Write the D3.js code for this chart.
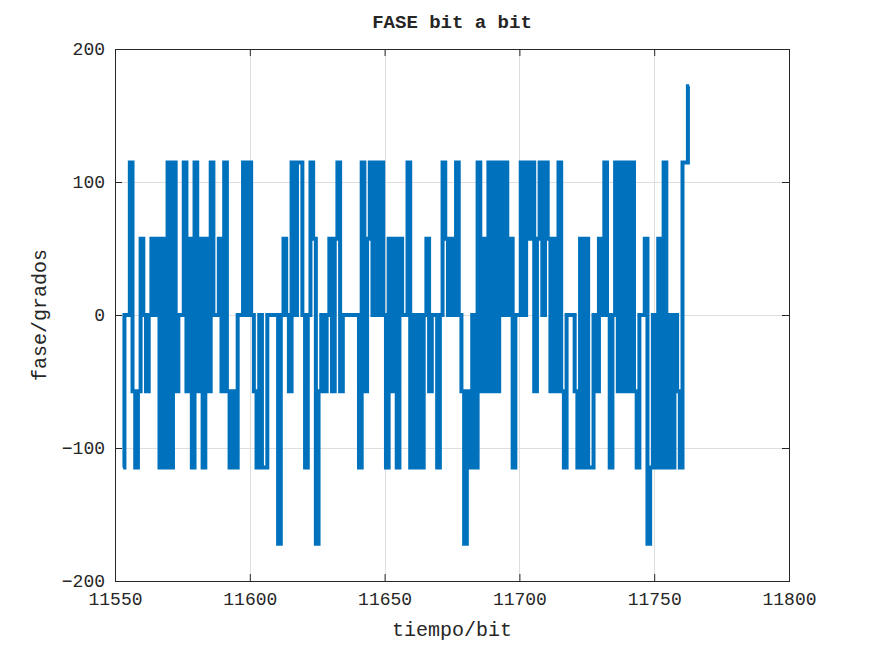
<!DOCTYPE html>
<html>
<head>
<meta charset="utf-8">
<script src="https://cdn.jsdelivr.net/npm/d3@7"></script>
<style>
  body { margin: 0; background: #fff; }
  text { font-family: "Liberation Mono", "Courier New", monospace; fill: #262626; }
</style>
</head>
<body>
<svg id="chart" width="872" height="654"></svg>
<script>
// fase de cada bit (grados), un valor por bit desde el bit 11553
const bitInicial = 11553;
const fase = [
  -114.6, 0, 0, 114.6, -57.3, -114.6, -57.3, 57.3, 0, -57.3,
  0, 57.3, 0, 57.3, -114.6, 57.3, -114.6, 114.6, -114.6, 114.6,
  -57.3, 0, 0, 114.6, -57.3, 57.3, -114.6, 114.6, -57.3, 57.3,
  -114.6, 57.3, -57.3, 114.6, 0, 0, 57.3, -57.3, 114.6, -57.3,
  -114.6, -57.3, -114.6, 0, 0, 114.6, 0, 114.6, 0, -57.3,
  -114.6, 0, -114.6, -114.6, 0, 0, 0, 0, -171.9, 0,
  57.3, 0, -57.3, 114.6, 0, 114.6, 114.6, 0, -114.6, 0,
  114.6, 57.3, -171.9, -57.3, 0, -57.3, 0, 57.3, -57.3, 57.3,
  114.6, -57.3, 0, 0, 0, 0, 0, 0, -114.6, 114.6,
  -57.3, 57.3, 114.6, 0, 114.6, 0, 114.6, 0, -114.6, 57.3,
  -57.3, 57.3, -114.6, 57.3, 0, 0, 114.6, -114.6, 0, -114.6,
  0, -114.6, 0, 57.3, -57.3, 0, 0, -114.6, 0, 114.6,
  57.3, 0, 57.3, 0, 114.6, 0, -57.3, -171.9, -57.3, -114.6,
  0, -114.6, 114.6, -57.3, 57.3, -57.3, 114.6, -57.3, 114.6, -57.3,
  114.6, 0, 114.6, 0, 57.3, -114.6, 0, 0, 114.6, 0,
  114.6, 57.3, 114.6, -57.3, 57.3, 114.6, 0, 114.6, 57.3, -57.3,
  57.3, -57.3, 114.6, -57.3, -114.6, 0, 0, 0, -57.3, -114.6,
  57.3, -114.6, 57.3, -114.6, -114.6, 0, -57.3, 57.3, 0, 114.6,
  0, -114.6, 0, 114.6, -57.3, 114.6, -57.3, 114.6, -57.3, 114.6,
  -57.3, -114.6, 0, 0, 57.3, -171.9, -114.6, 0, -114.6, 57.3,
  -114.6, 114.6, -114.6, 0, -114.6, 0, -57.3, -114.6, 114.6, 114.6, 171.9
];
const xTicks = [11550, 11600, 11650, 11700, 11750, 11800];
const yTicks = [-200, -100, 0, 100, 200];
const titulo = "FASE bit a bit";
const etiquetaX = "tiempo/bit";
const etiquetaY = "fase/grados";

// eje de tiempo: indice de bit
const tiempo = fase.map((d, i) => bitInicial + i);

const svg = d3.select("#chart");
const mLeft = 115, mRight = 789, mTop = 49, mBottom = 581;
const ink = "#262626";

svg.append("rect").attr("width", 872).attr("height", 654).attr("fill", "#fff");

const x = d3.scaleLinear().domain([11550, 11800]).range([mLeft, mRight]);
const y = d3.scaleLinear().domain([-200, 200]).range([mBottom, mTop]);

// rejilla
const grid = svg.append("g").attr("stroke", "#dedede").attr("stroke-width", 1);
grid.selectAll(".gx").data(xTicks.slice(1, -1)).enter().append("line")
  .attr("x1", d => Math.round(x(d)) + 0.5).attr("x2", d => Math.round(x(d)) + 0.5)
  .attr("y1", mTop).attr("y2", mBottom);
grid.selectAll(".gy").data(yTicks.slice(1, -1)).enter().append("line")
  .attr("y1", d => Math.round(y(d)) + 0.5).attr("y2", d => Math.round(y(d)) + 0.5)
  .attr("x1", mLeft).attr("x2", mRight);

// ejes con marcas hacia dentro
function estilo(g) {
  g.select(".domain").remove();
  g.selectAll(".tick line").attr("stroke", ink);
  g.selectAll(".tick text").attr("fill", ink).style("font-size", "18px");
}
svg.append("g").attr("transform", `translate(0,${mBottom})`)
  .call(d3.axisBottom(x).tickValues(xTicks).tickSize(-7).tickPadding(11).tickFormat(d3.format("d")))
  .call(estilo);
svg.append("g").attr("transform", `translate(0,${mTop})`)
  .call(d3.axisTop(x).tickValues(xTicks).tickSize(-7).tickFormat(""))
  .call(estilo);
svg.append("g").attr("transform", `translate(${mLeft},0)`)
  .call(d3.axisLeft(y).tickValues(yTicks).tickSize(-7).tickPadding(10).tickFormat(d3.format("d")))
  .call(estilo);
svg.append("g").attr("transform", `translate(${mRight},0)`)
  .call(d3.axisRight(y).tickValues(yTicks).tickSize(-7).tickFormat(""))
  .call(estilo);

// caja
svg.append("rect")
  .attr("x", mLeft + 0.5).attr("y", mTop + 0.5)
  .attr("width", mRight - mLeft).attr("height", mBottom - mTop)
  .attr("fill", "none").attr("stroke", ink).attr("stroke-width", 1);

// traza de fase
const linea = d3.line()
  .x((d, i) => x(tiempo[i]))
  .y(d => y(d))
  .curve(d3.curveStep);
svg.append("path")
  .datum(fase)
  .attr("d", linea)
  .attr("fill", "none")
  .attr("stroke", "#0072BD")
  .attr("stroke-width", 4);

// textos
svg.append("text").attr("x", (mLeft + mRight) / 2).attr("y", 28)
  .attr("text-anchor", "middle").style("font-size", "19px").style("font-weight", "bold")
  .text(titulo);
svg.append("text").attr("x", (mLeft + mRight) / 2).attr("y", 636)
  .attr("text-anchor", "middle").style("font-size", "20px")
  .text(etiquetaX);
svg.append("text").attr("transform", "translate(46,315) rotate(-90)")
  .attr("text-anchor", "middle").style("font-size", "20px")
  .text(etiquetaY);
</script>
</body>
</html>
